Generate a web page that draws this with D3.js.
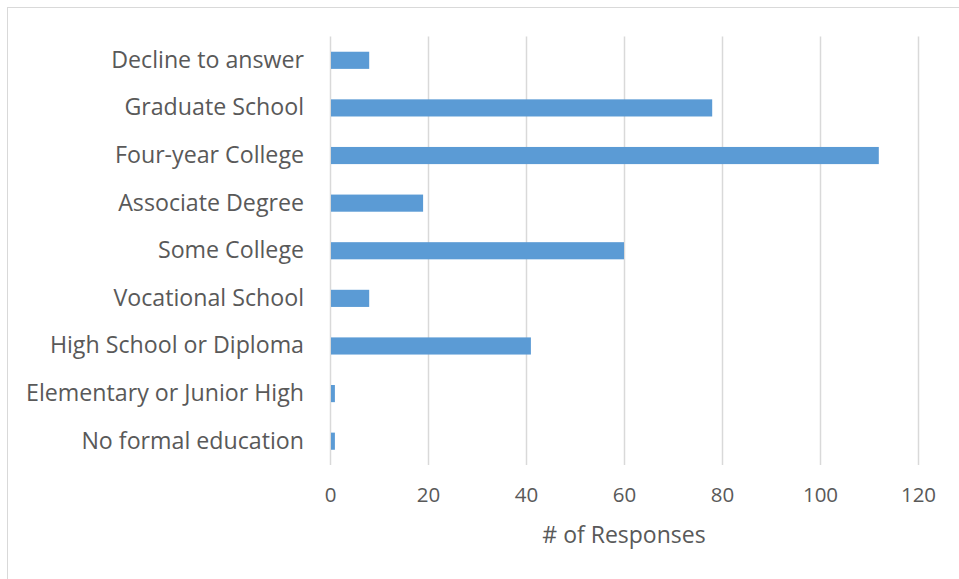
<!DOCTYPE html>
<html><head><meta charset="utf-8">
<script src="https://cdn.jsdelivr.net/npm/d3@7"></script>
<style>body{margin:0;background:#fff}svg{display:block}text{font-family:"Open Sans",sans-serif;fill:#595959}</style>
</head><body><svg id="c" width="959" height="579"></svg>
<script>
const categories = ["Decline to answer","Graduate School","Four-year College","Associate Degree","Some College","Vocational School","High School or Diploma","Elementary or Junior High","No formal education"];
const values = [8,78,112,19,60,8,41,1,1];
const xTicks = [0,20,40,60,80,100,120];
const axisTitle = "# of Responses";

const F = "'Open Sans',sans-serif";
const svg = d3.select("#c");
svg.append("rect").attr("x",7.5).attr("y",7.5).attr("width",960).attr("height",600)
  .attr("fill","#fff").attr("stroke","#d9d9d9").attr("stroke-width",1);

const m = {left:330, right:918, top:36.5, bottom:465};
const x = d3.scaleLinear().domain([0,120]).range([m.left,m.right]);
const y = d3.scaleBand().domain(categories).range([m.top,m.bottom]).paddingInner(0.64).paddingOuter(0.32);

const gx = svg.append("g").attr("transform",`translate(0,${m.bottom})`)
  .call(d3.axisBottom(x).tickValues(xTicks).tickSize(-(m.bottom-m.top)).tickPadding(22).tickFormat(d3.format("d")));
gx.select(".domain").remove();
gx.selectAll(".tick line").attr("stroke","#d9d9d9").attr("stroke-width",1.5);
gx.selectAll(".tick text").attr("font-size",20.5).style("fill","#595959").attr("font-family",F);

svg.append("g").selectAll("rect").data(categories).join("rect")
  .attr("x",x(0)+1).attr("y",d=>y(d)).attr("height",y.bandwidth())
  .attr("width",(d,i)=>x(values[i])-x(0)-1).attr("fill","#5b9bd5");

const gy = svg.append("g").attr("transform",`translate(${m.left},0)`)
  .call(d3.axisLeft(y).tickSize(0).tickPadding(26));
gy.select(".domain").remove();
gy.selectAll(".tick text").attr("font-size",23.2).style("fill","#595959").attr("font-family",F);

svg.append("text").attr("x",(m.left+m.right)/2).attr("y",543).attr("text-anchor","middle")
  .attr("font-size",23).text(axisTitle);
</script></body></html>
